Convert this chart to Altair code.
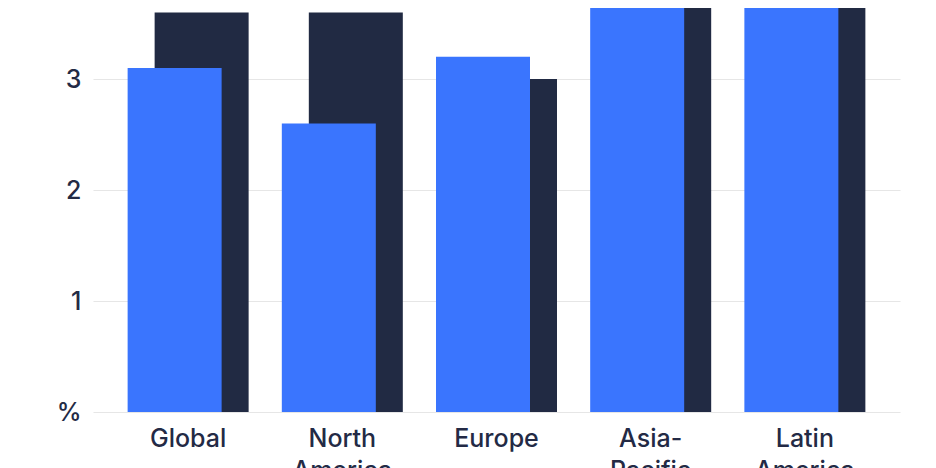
import altair as alt
import pandas as pd

regions = ["Global", "North America", "Europe", "Asia-Pacific", "Latin America"]
series_back = [3.6, 3.6, 3.0, 4.2, 4.1]   # dark navy bars (behind)
series_front = [3.1, 2.6, 3.2, 4.0, 3.7]  # blue bars (front)

df = pd.DataFrame({"region": regions, "back": series_back, "front": series_front})

FONT = "Inter"
TXT = "#232a45"

xscale = alt.Scale(domain=regions, paddingInner=0.218, paddingOuter=0.226)
yscale = alt.Scale(domain=[0, 3.64], nice=False, zero=True)

xaxis = alt.Axis(
    title=None, labelAngle=0, domain=False, ticks=False, labelPadding=14,
    labelFontSize=25, labelFont=FONT, labelColor=TXT, labelLineHeight=32,
    labelFontWeight=500,
    labelExpr="datum.label == 'Asia-Pacific' ? ['Asia-', 'Pacific'] : split(datum.label, ' ')",
)
yaxis = alt.Axis(
    title=None, values=[0, 1, 2, 3], domain=False, ticks=False, labelPadding=12,
    labelFontSize=25, labelFont=FONT, labelColor=TXT, gridColor="#e6e6e6",
    labelFontWeight=500,
    gridWidth=1.2, labelExpr="datum.value == 0 ? '%' : datum.label",
)

back = alt.Chart(df).mark_bar(width=94, xOffset=13.5, color="#212a43", clip=True).encode(
    x=alt.X("region:N", scale=xscale, axis=xaxis, sort=regions),
    y=alt.Y("back:Q", scale=yscale, axis=yaxis),
)
front = alt.Chart(df).mark_bar(width=94, xOffset=-13.5, color="#3a75fe", clip=True).encode(
    x=alt.X("region:N", scale=xscale, axis=xaxis, sort=regions),
    y=alt.Y("front:Q", scale=yscale, axis=yaxis),
)

chart = alt.layer(back, front).properties(
    width=807, height=404,
    autosize=alt.AutoSizeParams(type="none"),
    padding={"left": 85, "top": 0, "right": 20, "bottom": 56},
).configure_view(stroke=None)

chart.save("out.html", embed_options={"renderer": "svg", "actions": False})
